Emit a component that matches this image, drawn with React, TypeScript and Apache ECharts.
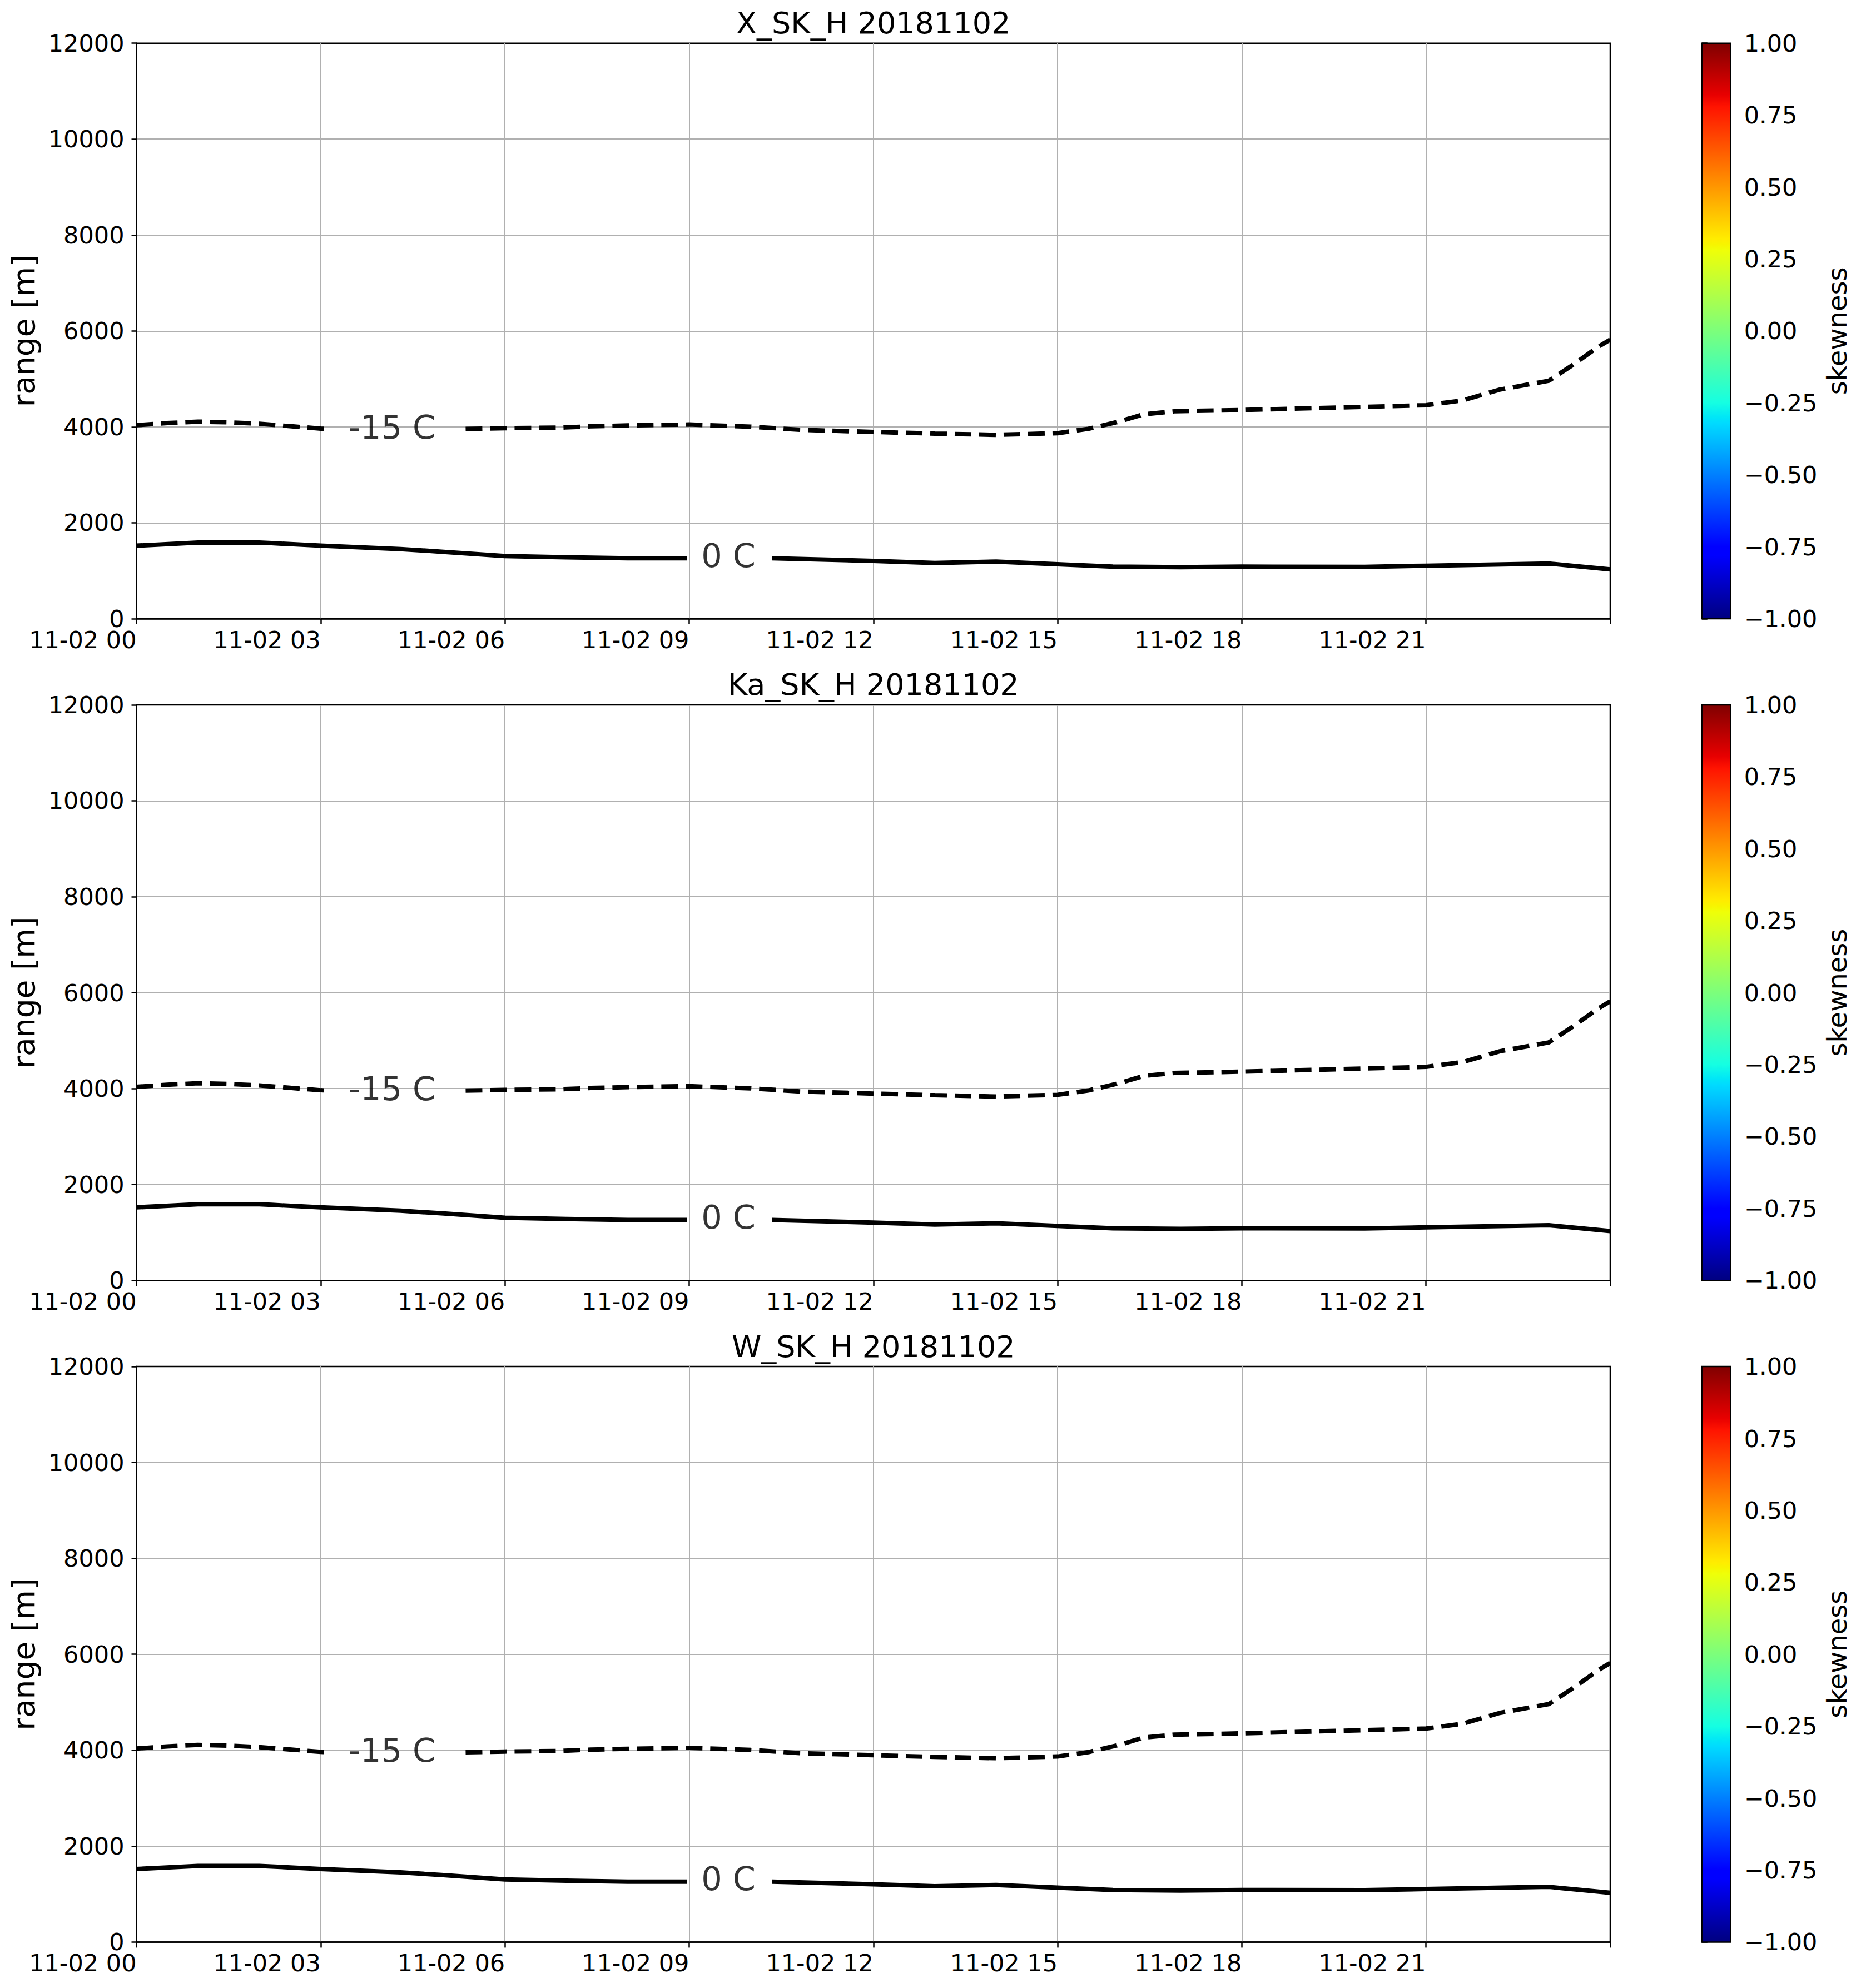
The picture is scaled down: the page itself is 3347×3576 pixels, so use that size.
import React, { useEffect, useRef } from 'react';
import * as echarts from 'echarts';

// ---------- data ----------
const PANEL_TITLES = ['X_SK_H 20181102', 'Ka_SK_H 20181102', 'W_SK_H 20181102'];
const DATE_PREFIX = '11-02';

// -15 C isotherm (hours since 11-02 00, height in m); null = label gap
const TIME_M15 = [0, 0.5, 1, 1.5, 2, 2.5, 3, 3.05, 4.2, 5.36, 6, 6.9, 7.4, 8, 9, 10, 10.8, 12, 13, 14, 15, 15.5, 16, 16.4, 16.9, 18, 19.65, 21, 21.6, 22.2, 23, 23.4, 23.8, 24];
const HEIGHT_M15 = [4035, 4080, 4110, 4095, 4065, 4015, 3965, 3962, null, 3957, 3973, 3985, 4012, 4030, 4050, 4005, 3940, 3895, 3861, 3834, 3869, 3960, 4110, 4263, 4325, 4352, 4406, 4452, 4553, 4777, 4962, 5300, 5666, 5820];

// 0 C isotherm
const TIME_0 = [0, 1, 2, 2.2, 3, 4.3, 5, 6, 7, 8, 8.96, 9.65, 10.35, 12, 13, 14, 15, 15.9, 17, 18, 20, 21, 23, 24];
const HEIGHT_0 = [1523, 1588, 1588, 1575, 1523, 1453, 1395, 1306, 1280, 1260, 1260, null, 1260, 1205, 1163, 1190, 1136, 1086, 1074, 1086, 1082, 1105, 1151, 1028];

// contour labels
const LABEL_TEXT = ['-15 C', '0 C'];
const LABEL_TIME = [4.16, 9.64];
const LABEL_HEIGHT = [3996, 1318];

// axes
const X_MIN = 0, X_MAX = 24, X_STEP = 3;
const Y_MIN = 0, Y_MAX = 12000, Y_STEP = 2000;
const CB_MIN = -1, CB_MAX = 1, CB_STEP = 0.25;

// jet colormap stops (offset from bottom)
const JET_OFFSETS = [0, 0.11, 0.125, 0.34, 0.35, 0.375, 0.64, 0.65, 0.66, 0.89, 0.91, 1];
const JET_COLORS = ['#000080', '#0000ff', '#0000ff', '#00dbff', '#00e6f7', '#15ffe2', '#efff08', '#f7f500', '#ffec00', '#ff1300', '#e80000', '#800000'];

// ---------- layout ----------
const W = 3347, H = 3576;
const FONT = 'DejaVu Sans';
const LEFT = 245.5, RIGHT_EDGE = 2896;
const TOP0 = 77.7, STEP = 1190.2, PH = 1035.3;
const CB_LEFT = 3060.7, CB_W = 52;

function pad2(v: number) {
  return String(v).padStart(2, '0');
}

function buildOption() {
  const grid: any[] = [];
  const xAxis: any[] = [];
  const yAxis: any[] = [];
  const series: any[] = [];
  const graphic: any[] = [];

  const d15 = TIME_M15.map((t, i) => [t, HEIGHT_M15[i] === null ? '-' : HEIGHT_M15[i]]);
  const d0 = TIME_0.map((t, i) => [t, HEIGHT_0[i] === null ? '-' : HEIGHT_0[i]]);
  const labels = LABEL_TEXT.map((txt, i) => ({ value: [LABEL_TIME[i], LABEL_HEIGHT[i]], name: txt }));
  const stops = JET_OFFSETS.map((o, i) => ({ offset: o, color: JET_COLORS[i] }));

  for (let p = 0; p < 3; p++) {
    const top = TOP0 + p * STEP;
    const gi = p * 2;
    grid.push({
      left: LEFT, top, width: RIGHT_EDGE - LEFT, height: PH,
      show: true, borderColor: '#000', borderWidth: 2.5, backgroundColor: 'transparent',
      outerBoundsMode: 'none', containLabel: false,
    });
    grid.push({
      left: CB_LEFT, top, width: CB_W, height: PH,
      show: false, outerBoundsMode: 'none', containLabel: false,
    });

    xAxis.push({
      type: 'value', gridIndex: gi, min: X_MIN, max: X_MAX, interval: X_STEP,
      axisLine: { show: true, onZero: false, lineStyle: { color: '#000', width: 2.5 } },
      axisTick: { show: true, length: 10, lineStyle: { color: '#000', width: 2.5 } },
      axisLabel: {
        show: true, fontSize: 43, fontFamily: FONT, color: '#000', margin: 38,
        align: 'right', verticalAlign: 'middle',
        formatter: (v: number) => (v % X_STEP === 0 && v < X_MAX ? `${DATE_PREFIX} ${pad2(v)}` : ''),
      },
      splitLine: { show: true, showMinLine: false, showMaxLine: false, lineStyle: { color: '#b0b0b0', width: 2 } },
    });
    yAxis.push({
      type: 'value', gridIndex: gi, min: Y_MIN, max: Y_MAX, interval: Y_STEP,
      axisLine: { show: true, onZero: false, lineStyle: { color: '#000', width: 2.5 } },
      axisTick: { show: true, length: 9, lineStyle: { color: '#000', width: 2.5 } },
      axisLabel: {
        show: true, fontSize: 43, fontFamily: FONT, color: '#000', margin: 22,
        formatter: (v: number) => String(v),
      },
      splitLine: { show: true, showMinLine: false, showMaxLine: false, lineStyle: { color: '#b0b0b0', width: 2 } },
    });

    xAxis.push({ type: 'value', gridIndex: gi + 1, min: 0, max: 1, show: false });
    yAxis.push({
      type: 'value', gridIndex: gi + 1, min: CB_MIN, max: CB_MAX, interval: CB_STEP, position: 'right',
      axisLine: { show: false },
      axisTick: { show: true, length: 10, lineStyle: { color: '#000', width: 2.5 } },
      axisLabel: {
        show: true, fontSize: 43, fontFamily: FONT, color: '#000', margin: 24,
        formatter: (v: number) => {
          const s = (Math.abs(v) < 1e-9 ? 0 : v).toFixed(2);
          return s.replace('-', '\u2212');
        },
      },
      splitLine: { show: false },
    });

    series.push({
      type: 'line', xAxisIndex: gi, yAxisIndex: gi, data: d15, connectNulls: false,
      showSymbol: false, symbol: 'none', silent: true, z: 3,
      lineStyle: { color: '#000', width: 8, type: [30, 14], cap: 'butt' },
    });
    series.push({
      type: 'line', xAxisIndex: gi, yAxisIndex: gi, data: d0, connectNulls: false,
      showSymbol: false, symbol: 'none', silent: true, z: 3,
      lineStyle: { color: '#000', width: 8, type: 'solid', join: 'round' },
    });
    series.push({
      type: 'scatter', xAxisIndex: gi, yAxisIndex: gi, data: labels, symbolSize: 1, silent: true, z: 4,
      itemStyle: { color: 'rgba(0,0,0,0)' },
      label: {
        show: true, position: 'inside', formatter: (pp: any) => pp.name,
        fontSize: 59, fontFamily: FONT, color: '#000',
      },
    });
    series.push({
      type: 'custom', xAxisIndex: gi + 1, yAxisIndex: gi + 1, silent: true,
      data: [[0, CB_MIN]],
      renderItem: (_params: any, api: any) => {
        const p0 = api.coord([0, CB_MIN]);
        const p1 = api.coord([1, CB_MAX]);
        return {
          type: 'rect',
          shape: { x: p0[0], y: p1[1], width: p1[0] - p0[0], height: p0[1] - p1[1] },
          style: {
            fill: new echarts.graphic.LinearGradient(0, 1, 0, 0, stops),
            stroke: '#000', lineWidth: 2.5,
          },
        };
      },
    });

    graphic.push({
      type: 'text', x: (LEFT + RIGHT_EDGE) / 2, y: top - 36,
      style: { text: PANEL_TITLES[p], fontSize: 54, fontFamily: FONT, fill: '#000', align: 'center', verticalAlign: 'middle', textAlign: 'center', textVerticalAlign: 'middle' },
    });
    graphic.push({
      type: 'text', x: 43, y: top + PH / 2, rotation: Math.PI / 2,
      style: { text: 'range [m]', fontSize: 55, fontFamily: FONT, fill: '#000', align: 'center', verticalAlign: 'middle', textAlign: 'center', textVerticalAlign: 'middle' },
    });
    graphic.push({
      type: 'text', x: 3304, y: top + PH / 2, rotation: Math.PI / 2,
      style: { text: 'skewness', fontSize: 48, fontFamily: FONT, fill: '#000', align: 'center', verticalAlign: 'middle', textAlign: 'center', textVerticalAlign: 'middle' },
    });
  }

  return {
    animation: false,
    backgroundColor: '#fff',
    textStyle: { fontFamily: FONT },
    grid, xAxis, yAxis, series, graphic,
  };
}

export default function App() {
  const ref = useRef<HTMLDivElement>(null);
  useEffect(() => {
    if (!ref.current) return;
    const chart = echarts.init(ref.current, null, { renderer: 'svg', width: W, height: H });
    chart.setOption(buildOption() as any);
    return () => chart.dispose();
  }, []);
  return <div ref={ref} style={{ position: 'absolute', left: 0, top: 0, width: W, height: H }} />;
}
